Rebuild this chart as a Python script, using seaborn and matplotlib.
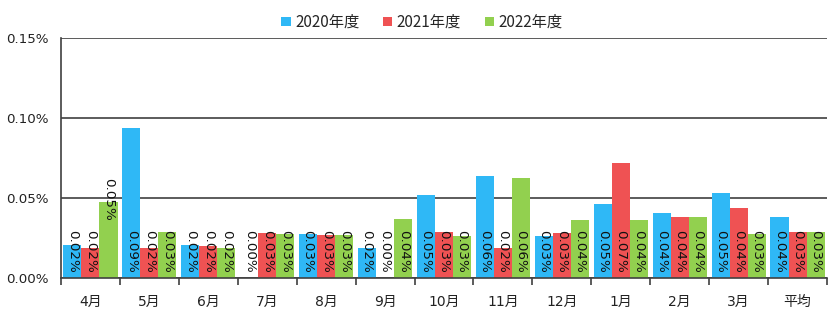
import matplotlib
matplotlib.use("Agg")
import matplotlib.pyplot as plt
import seaborn as sns
import pandas as pd
from matplotlib.ticker import FixedLocator, FuncFormatter
from matplotlib.patches import Patch

months = ["4月", "5月", "6月", "7月", "8月", "9月", "10月", "11月", "12月", "1月", "2月", "3月", "平均"]
series = ["2020年度", "2021年度", "2022年度"]
v2020 = [0.0206, 0.094, 0.0206, 0.0, 0.0275, 0.019, 0.052, 0.064, 0.026, 0.046, 0.0406, 0.053, 0.038]
v2021 = [0.019, 0.019, 0.020, 0.028, 0.027, 0.0, 0.029, 0.019, 0.028, 0.072, 0.038, 0.044, 0.029]
v2022 = [0.0475, 0.029, 0.019, 0.0275, 0.027, 0.037, 0.026, 0.0625, 0.036, 0.036, 0.038, 0.0275, 0.029]
colors = ["#2FB8F6", "#EF5253", "#92D04F"]

rows = []
for s, vals in zip(series, [v2020, v2021, v2022]):
    for m, v in zip(months, vals):
        rows.append({"month": m, "series": s, "value": v})
df = pd.DataFrame(rows)

sns.set_theme(style="white")
plt.rcParams["font.family"] = ["DejaVu Sans", "Noto Sans CJK JP"]

fig = plt.figure(figsize=(8.34, 3.25), dpi=100)
ax = fig.add_axes([61 / 834, 1 - 278 / 325, (827 - 61) / 834, (278 - 38) / 325])

sns.barplot(data=df, x="month", y="value", hue="series", order=months, hue_order=series,
            palette=colors, width=0.92, gap=0, ax=ax, legend=False, saturation=1,
            edgecolor="none", linewidth=0)

ax.set_ylim(0, 0.15)
ax.set_xlim(-0.5, len(months) - 0.5)
ax.yaxis.set_major_locator(FixedLocator([0, 0.05, 0.10, 0.15]))
ax.yaxis.set_major_formatter(FuncFormatter(lambda v, p: f"{v:.2f}%"))
ax.grid(axis="y", color="#404040", linewidth=1.2)
ax.set_axisbelow(True)
ax.set_xlabel("")
ax.set_ylabel("")
for side in ["top", "right"]:
    ax.spines[side].set_visible(False)
ax.spines["left"].set_color("#404040")
ax.spines["bottom"].set_color("#404040")
ax.spines["left"].set_linewidth(1.2)
ax.spines["bottom"].set_linewidth(1.2)
ax.tick_params(axis="y", length=0, labelsize=9.6, colors="#222222", pad=9)
ax.tick_params(axis="x", which="major", length=0, labelsize=10, colors="#222222", pad=12)
ax.set_xticks([i - 0.5 for i in range(len(months) + 1)], minor=True)
ax.tick_params(axis="x", which="minor", length=5, width=1.2, color="#404040", bottom=True)

# data labels, written downward near the base of each bar
for si, (cont, vals) in enumerate(zip(ax.containers, [v2020, v2021, v2022])):
    for mi, (patch, v) in enumerate(zip(cont.patches, vals)):
        x = patch.get_x() + patch.get_width() / 2
        y = 0.0034
        if si == 2 and mi == 0:
            y = 0.036
        ax.text(x, y, f"{v:.2f}%", rotation=270, ha="center", va="bottom",
                fontsize=9.7, color="#111111")

handles = [Patch(facecolor=c, edgecolor="none") for c in colors]
fig.legend(handles, series, loc="upper center", bbox_to_anchor=(0.506, 1.0), ncol=3,
           frameon=False, prop={"family": "Noto Sans CJK JP", "size": 11},
           handlelength=0.6, handleheight=0.6, handletextpad=0.3, columnspacing=1.55)

fig.savefig("out.png", dpi=100)
